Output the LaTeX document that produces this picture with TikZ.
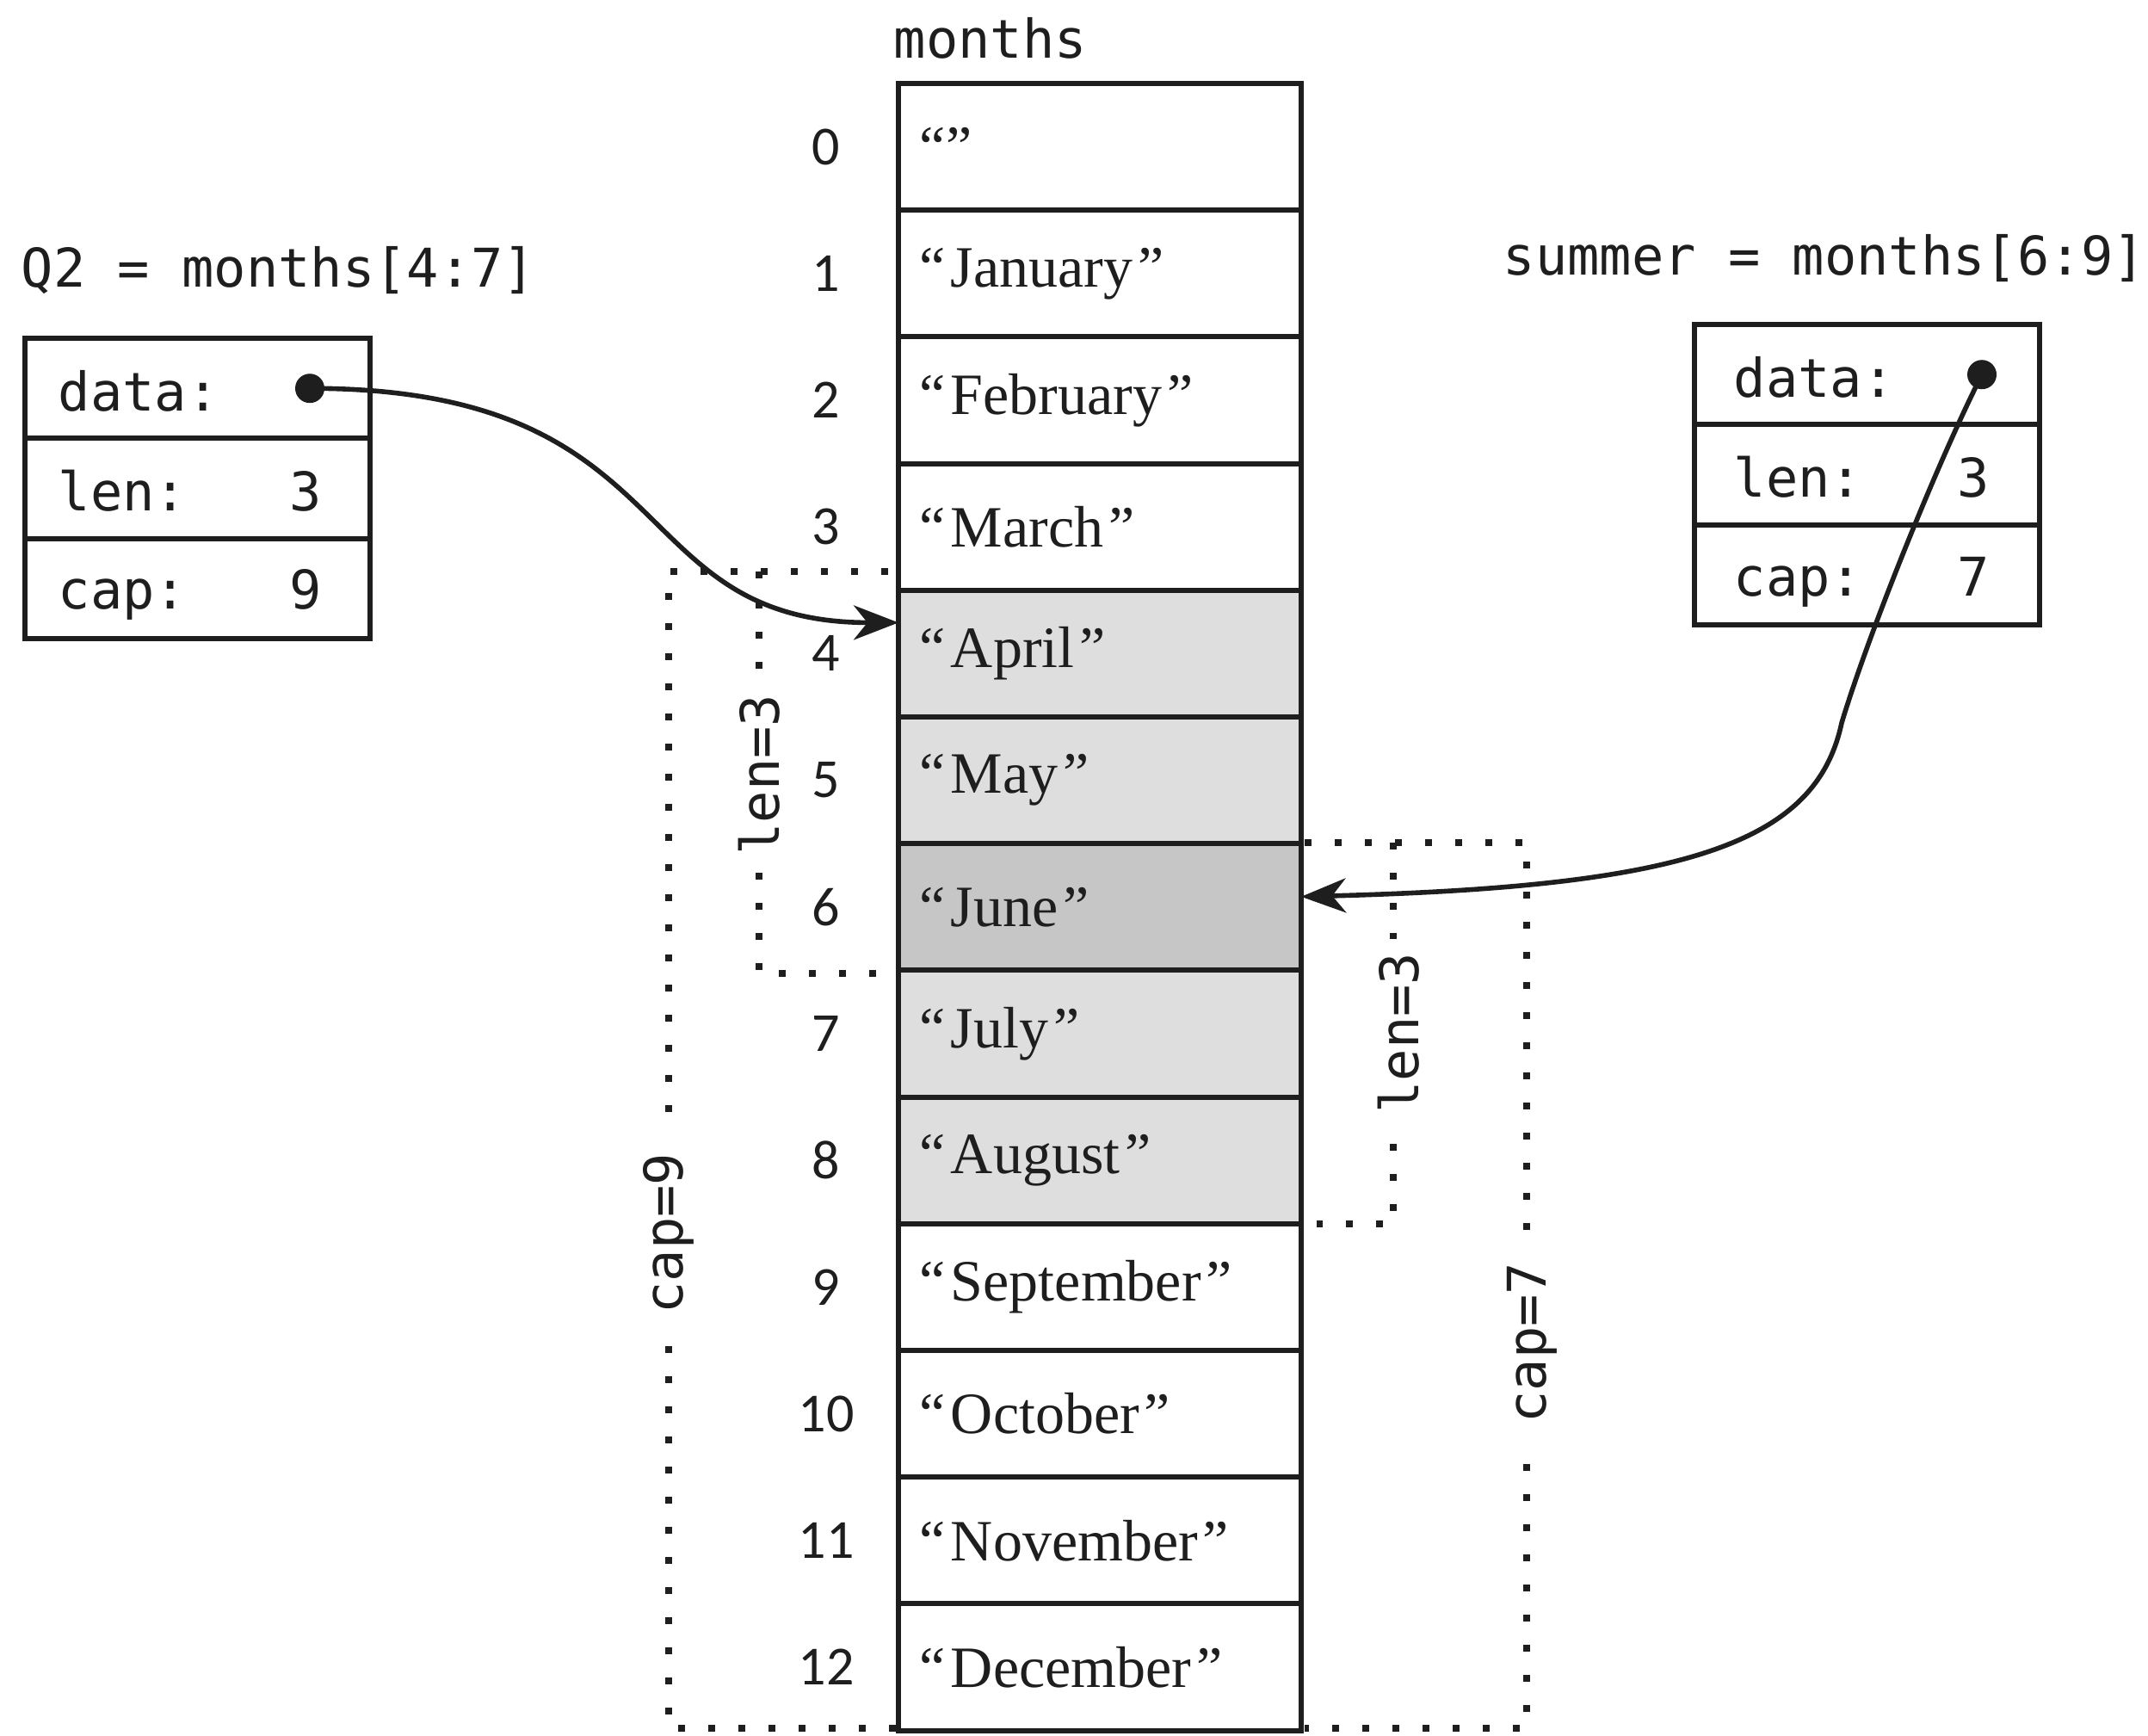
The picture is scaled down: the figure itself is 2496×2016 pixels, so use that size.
\documentclass[tikz,border=0pt]{standalone}
\usepackage{fontspec}
\setmainfont{Liberation Serif}
\newfontfamily\codefont{DejaVu Sans Mono}
\newfontfamily\numfont{Carlito}
\usetikzlibrary{arrows.meta}
\definecolor{lightcell}{RGB}{222,222,222}
\definecolor{darkcell}{RGB}{198,198,198}
\definecolor{ink}{RGB}{30,30,30}
\begin{document}
\begin{tikzpicture}[x=0.25pt,y=-0.25pt,
  cell/.style={draw=ink, line width=1.5pt, minimum width=117pt, minimum height=36.8pt, inner sep=0pt, outer sep=0pt},
  fieldbox/.style={draw=ink, line width=1.5pt, minimum width=100.2pt, minimum height=29.1pt, inner sep=0pt, outer sep=0pt},
  monthtext/.style={font=\fontsize{17pt}{20pt}\selectfont, inner sep=0pt, anchor=west, text=ink},
  idx/.style={font=\numfont\fontsize{16pt}{19pt}\selectfont, inner sep=0pt, text=ink},
  code/.style={font=\codefont\fontsize{15.5pt}{18pt}\selectfont, inner sep=0pt, text=ink},
  dotptr/.style={circle, fill=ink, inner sep=0pt, minimum size=8.5pt},
  conn/.style={draw=ink, line width=1.4pt, -{Stealth[length=13pt,width=10pt,inset=4pt]}},
  dots/.style={draw=ink, line width=2.1pt, dash pattern=on 2.1pt off 6.65pt},
  brlabel/.style={code, fill=white, rotate=90, inner ysep=1pt}
]
\useasboundingbox (0,0) rectangle (2496,2016);

% array label
\node[code, anchor=west] (monthslbl) at (1038,44) {months};

% array cells
\foreach \i/\m/\f in {0/{“”}/white, 1/{“\kern1.5pt January\kern1.5pt”}/white,
  2/{“\kern1.5pt February\kern1.5pt”}/white, 3/{“\kern1.5pt March\kern1.5pt”}/white,
  4/{“\kern1.5pt April\kern1.5pt”}/lightcell, 5/{“\kern1.5pt May\kern1.5pt”}/lightcell,
  6/{“\kern1.5pt June\kern1.5pt”}/darkcell, 7/{“\kern1.5pt July\kern1.5pt”}/lightcell,
  8/{“\kern1.5pt August\kern1.5pt”}/lightcell, 9/{“\kern1.5pt September\kern1.5pt”}/white,
  10/{“\kern1.5pt October\kern1.5pt”}/white, 11/{“\kern1.5pt November\kern1.5pt”}/white,
  12/{“\kern1.5pt December\kern1.5pt”}/white}{
  \pgfmathsetmacro\cy{97+147.2*\i+73.6}
  \node[cell, fill=\f] (c\i) at (1278,\cy) {};
  \node[monthtext] (m\i) at ([xshift=6pt]c\i.west) {\m};
  \node[idx] (n\i) at (960,\cy) {\i};
}

% Q2 slice header
\node[code, anchor=west] (q2lbl) at (24,314) {Q2 = months[4:7]};
\node[fieldbox] (q2d) at (229.5,451.2) {};
\node[fieldbox] (q2l) at (229.5,567.5) {};
\node[fieldbox] (q2c) at (229.5,683.8) {};
\node[code, anchor=base west] (q2dt) at (67,477) {data:};
\node[code, anchor=base west] (q2lt) at (67,593) {len:};
\node[code, anchor=base west] (q2ct) at (67,707) {cap:};
\node[code, anchor=base] (q2lv) at (355,593) {3};
\node[code, anchor=base] (q2cv) at (355,707) {9};
\node[dotptr] (q2dot) at (360,451.2) {};

% summer slice header
\node[code, anchor=west] (sulbl) at (1746,300) {summer = months[6:9]};
\node[fieldbox] (sud) at (2169.5,435.2) {};
\node[fieldbox] (sul) at (2169.5,551.5) {};
\node[fieldbox] (suc) at (2169.5,667.8) {};
\node[code, anchor=base west] (sudt) at (2014,461) {data:};
\node[code, anchor=base west] (sult) at (2014,577) {len:};
\node[code, anchor=base west] (suct) at (2014,692) {cap:};
\node[code, anchor=base] (sulv) at (2293,577) {3};
\node[code, anchor=base] (sucv) at (2293,692) {7};
\node[dotptr] (sudot) at (2303,435.2) {};

% dotted brackets for Q2
\draw[dots] (1032,664) -- (777,664) -- (777,2008) -- (1044,2008);
\draw[dots] (882,664) -- (882,1131) -- (1024,1131);
\node[brlabel, inner xsep=8pt] (q2cap) at (777,1433) {cap=9};
\node[brlabel, inner xsep=3pt] (q2len) at (882,900) {len=3};

% dotted brackets for summer
\draw[dots] (1516,979) -- (1774,979) -- (1774,2008) -- (1516,2008);
\draw[dots] (1619,979) -- (1619,1422) -- (1530,1422);
\node[brlabel, inner xsep=6pt] (sucap) at (1780,1560) {cap=7};
\node[brlabel, inner xsep=4pt] (sulen) at (1625,1200) {len=3};

% pointers
\coordinate (suvia) at (2140,840);
\draw[conn] (q2dot.center) .. controls +(440,0) and +(-324,0) .. ([yshift=9pt]c4.west);
\draw[conn] (sudot.center) .. controls (2250,540) and (2170,740) .. (suvia)
  .. controls (2110,980) and (1960,1030) .. ([yshift=3pt]c6.east);
\end{tikzpicture}
\end{document}
